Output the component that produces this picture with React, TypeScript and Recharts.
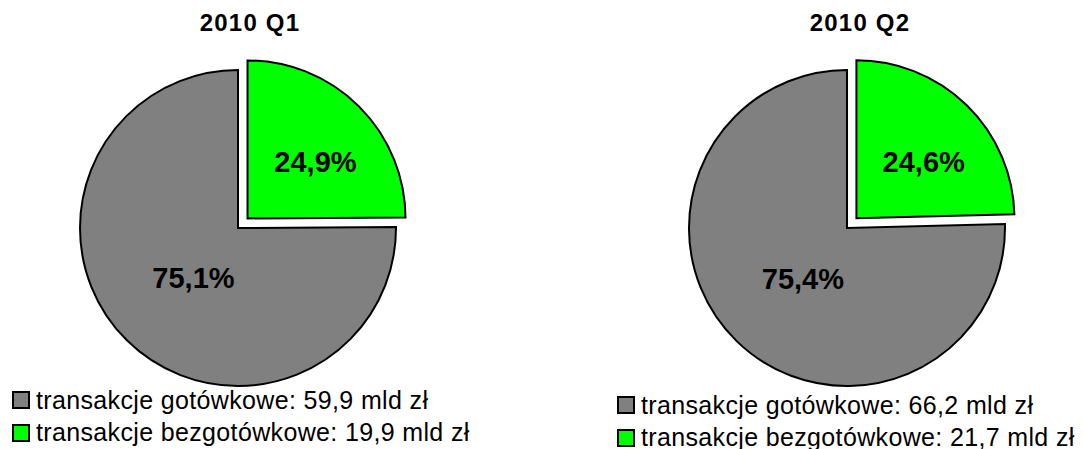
import { PieChart, Pie, Cell, Sector } from 'recharts';

const quarters = ['2010 Q1', '2010 Q2'];
const categories = ['transakcje bezgotówkowe', 'transakcje gotówkowe'];
const sharesQ1 = [24.9, 75.1];
const sharesQ2 = [24.6, 75.4];
const amountsQ1 = [19.9, 59.9];
const amountsQ2 = [21.7, 66.2];
const colors = ['#00FF00', '#808080'];

const FONT = '"Liberation Sans", Arial, sans-serif';
const RADIUS = 158;
const EXPLODE = 13.5;
const RAD = Math.PI / 180;

const fmt = (v: number) => v.toFixed(1).replace('.', ',');

function toRows(shares: number[]) {
  return categories.map((name, i) => ({ name, value: shares[i], explode: i === 0 }));
}

function ExplodedSector(props: any) {
  const { cx, cy, midAngle, payload } = props;
  const off = payload && payload.explode ? EXPLODE : 0;
  return (
    <Sector
      {...props}
      cx={cx + off * Math.cos(-midAngle * RAD)}
      cy={cy + off * Math.sin(-midAngle * RAD)}
    />
  );
}

// label distance factors (x, y) per slice, relative to radius
const labelFactors = [
  [0.61, 0.5],
  [0.4, 0.45],
];

function renderLabel(props: any) {
  const { cx, cy, midAngle, outerRadius, index, value } = props;
  const off = index === 0 ? EXPLODE : 0;
  const cos = Math.cos(-midAngle * RAD);
  const sin = Math.sin(-midAngle * RAD);
  const [fx, fy] = labelFactors[index];
  const x = cx + off * cos + outerRadius * fx * cos;
  const y = cy + off * sin + outerRadius * fy * sin;
  return (
    <text
      x={x}
      y={y}
      textAnchor="middle"
      dominantBaseline="central"
      fontFamily={FONT}
      fontWeight="bold"
      fontSize={29}
      fill="#000"
    >
      {fmt(value)}%
    </text>
  );
}

function QuarterPie({ shares, cx }: { shares: number[]; cx: number }) {
  return (
    <Pie
      data={toRows(shares)}
      dataKey="value"
      cx={cx}
      cy={228}
      outerRadius={RADIUS}
      startAngle={90}
      endAngle={-270}
      stroke="#000"
      strokeWidth={2}
      label={renderLabel}
      labelLine={false}
      shape={ExplodedSector}
      isAnimationActive={false}
    >
      {categories.map((c, i) => (
        <Cell key={c} fill={colors[i]} />
      ))}
    </Pie>
  );
}

function LegendBox({ amounts, left, top }: { amounts: number[]; left: number; top: number }) {
  // gotówkowe listed first
  const order = [1, 0];
  return (
    <div style={{ position: 'absolute', left, top, fontFamily: FONT, fontSize: 25 }}>
      {order.map((i) => (
        <div key={i} style={{ display: 'flex', alignItems: 'center', height: 32.5 }}>
          <span
            style={{
              display: 'inline-block',
              width: 14,
              height: 14,
              background: colors[i],
              border: '2px solid #000',
              marginRight: 6,
            }}
          />
          <span style={{ letterSpacing: 0.35, whiteSpace: 'nowrap' }}>
            {categories[i]}: {fmt(amounts[i])} mld zł
          </span>
        </div>
      ))}
    </div>
  );
}

const titleStyle = {
  position: 'absolute' as const,
  top: 9,
  width: 200,
  textAlign: 'center' as const,
  fontFamily: FONT,
  fontWeight: 'bold' as const,
  fontSize: 24,
  letterSpacing: 1.2,
};

export default function App() {
  return (
    <div style={{ position: 'absolute', left: 0, top: 0, width: 1083, height: 449, background: '#fff' }}>
      <PieChart width={1083} height={449} margin={{ top: 0, right: 0, bottom: 0, left: 0 }}>
        <QuarterPie shares={sharesQ1} cx={238} />
        <QuarterPie shares={sharesQ2} cx={847} />
      </PieChart>
      <div style={{ ...titleStyle, left: 150 }}>{quarters[0]}</div>
      <div style={{ ...titleStyle, left: 760 }}>{quarters[1]}</div>
      <LegendBox amounts={amountsQ1} left={12} top={384} />
      <LegendBox amounts={amountsQ2} left={617} top={389} />
    </div>
  );
}
